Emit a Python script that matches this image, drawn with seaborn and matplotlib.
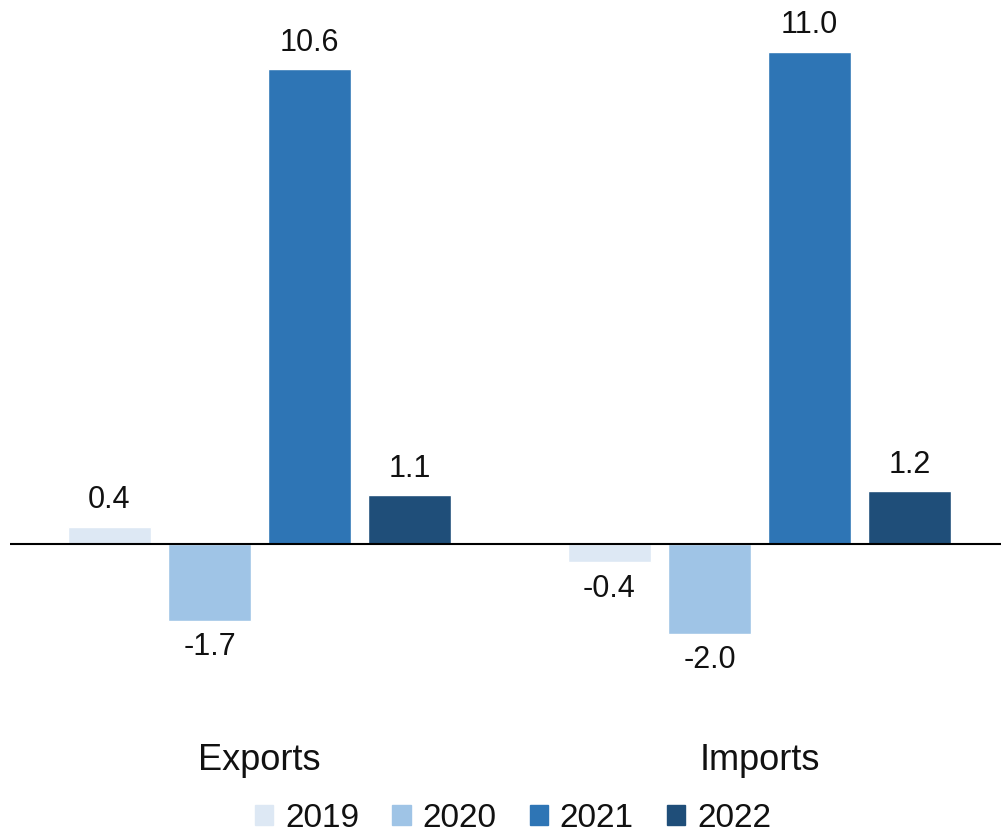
import seaborn as sns
import matplotlib.pyplot as plt
import pandas as pd

# 数据
categories = ['Exports', 'Imports']
years = ['2019', '2020', '2021', '2022']
exports = [0.4, -1.7, 10.6, 1.1]
imports = [-0.4, -2.0, 11.0, 1.2]
colors = ['#dde8f4', '#9fc4e6', '#2e75b5', '#1f4e79']

df = pd.DataFrame({
    'category': [c for c in categories for _ in years],
    'year': years * 2,
    'value': exports + imports,
})

sns.set_theme(style='white')
plt.rcParams['font.family'] = ['Liberation Sans', 'DejaVu Sans']

fig = plt.figure(figsize=(10.01, 8.38), dpi=100)
ax = fig.add_axes([10 / 1001, 138 / 838, 991 / 1001, 700 / 838])

sns.barplot(data=df, x='category', y='value', hue='year', palette=colors,
            width=0.8, gap=0.17, saturation=1, ax=ax, legend=False)

for cont in ax.containers:
    ax.bar_label(cont, fmt='%.1f', padding=8, fontsize=22, color='#111111')

ax.axhline(0, color='black', lw=1.5)
ax.set_xlim(-0.499, 1.483)
ax.set_ylim(-3.47, 12.15)
ax.set_yticks([])
ax.set_xlabel('')
ax.set_ylabel('')
ax.tick_params(axis='x', length=0, pad=31, labelsize=26, labelcolor='#111111')
for s in ax.spines.values():
    s.set_visible(False)

handles = [plt.Rectangle((0, 0), 1, 1, color=c) for c in colors]
fig.legend(handles, years, loc='center', bbox_to_anchor=(513 / 1001, 1 - 818 / 838),
           ncol=4, frameon=False, fontsize=24, handlelength=0.55, handleheight=0.55,
           handletextpad=0.35, columnspacing=1.0, labelcolor='#111111')

fig.savefig('out.png', dpi=100)
